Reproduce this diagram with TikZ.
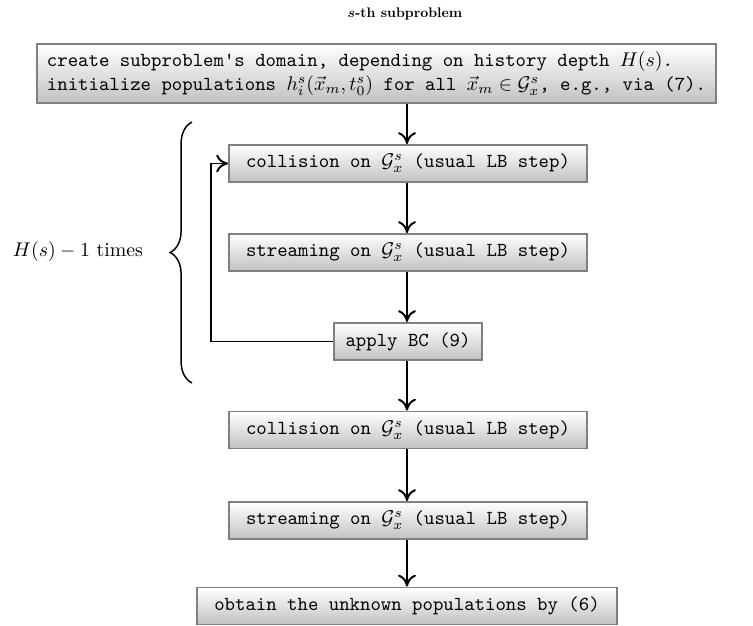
\documentclass[tikz,border=0pt]{standalone}
\usetikzlibrary{arrows.meta,decorations.pathreplacing,shadings}
\begin{document}
\begin{tikzpicture}[x=0.504pt,y=-0.504pt,
  stepbox/.style={draw=black!50, line width=0.95pt, top color=white, bottom color=black!24,
    font=\ttfamily, inner sep=0pt, minimum height=18.6pt, anchor=center},
  flow/.style={line width=1pt, -{Computer Modern Rightarrow[length=6pt,width=9pt]}}]
\useasboundingbox (0,0) rectangle (753,626);
\node[inner sep=0pt] (title) at (405,14) {\scalebox{0.7}{\bfseries\boldmath$s$-th subproblem}};
\node[stepbox, minimum width=342.2pt, minimum height=29.7pt, align=left] (init) at (376.5,73.5)
  {create subproblem's domain, depending on history depth $H(s)$.\\
   initialize populations $h_i^s(\vec{x}_m,t_0^s)$ for all $\vec{x}_m\in\mathcal{G}_x^s$, e.g., via (7).};
\node[stepbox, minimum width=180.4pt] (col1) at (408,163.5) {collision on $\mathcal{G}_x^s$ (usual LB step)};
\node[stepbox, minimum width=180.4pt] (str1) at (408,252.5) {streaming on $\mathcal{G}_x^s$ (usual LB step)};
\node[stepbox, minimum width=74.6pt] (bc) at (408,341.5) {apply BC (9)};
\node[stepbox, minimum width=180.4pt] (col2) at (408,430) {collision on $\mathcal{G}_x^s$ (usual LB step)};
\node[stepbox, minimum width=180.4pt] (str2) at (408,520.5) {streaming on $\mathcal{G}_x^s$ (usual LB step)};
\node[stepbox, minimum width=211.7pt] (obt) at (407,606) {obtain the unknown populations by (6)};
\coordinate (x0) at (407,0);
\draw[flow] (init.south -| x0) -- (col1.north -| x0);
\draw[flow] (col1.south -| x0) -- (str1.north -| x0);
\draw[flow] (str1.south -| x0) -- (bc.north -| x0);
\draw[flow] (bc.south -| x0) -- (col2.north -| x0);
\draw[flow] (col2.south -| x0) -- (str2.north -| x0);
\draw[flow] (str2.south -| x0) -- (obt.north -| x0);
\coordinate (lp) at (211,0);
\draw[flow] (bc.west) -- (bc.west -| lp) -- (col1.west -| lp) -- (col1.west);
\coordinate (bb) at (192,383);
\coordinate (bt) at (192,122);
\draw[line width=0.75pt, decorate, decoration={brace, amplitude=11pt}] (bb) -- (bt);
\node (lbl) at (78,252) {$H(s)-1$ times};
\end{tikzpicture}
\end{document}
